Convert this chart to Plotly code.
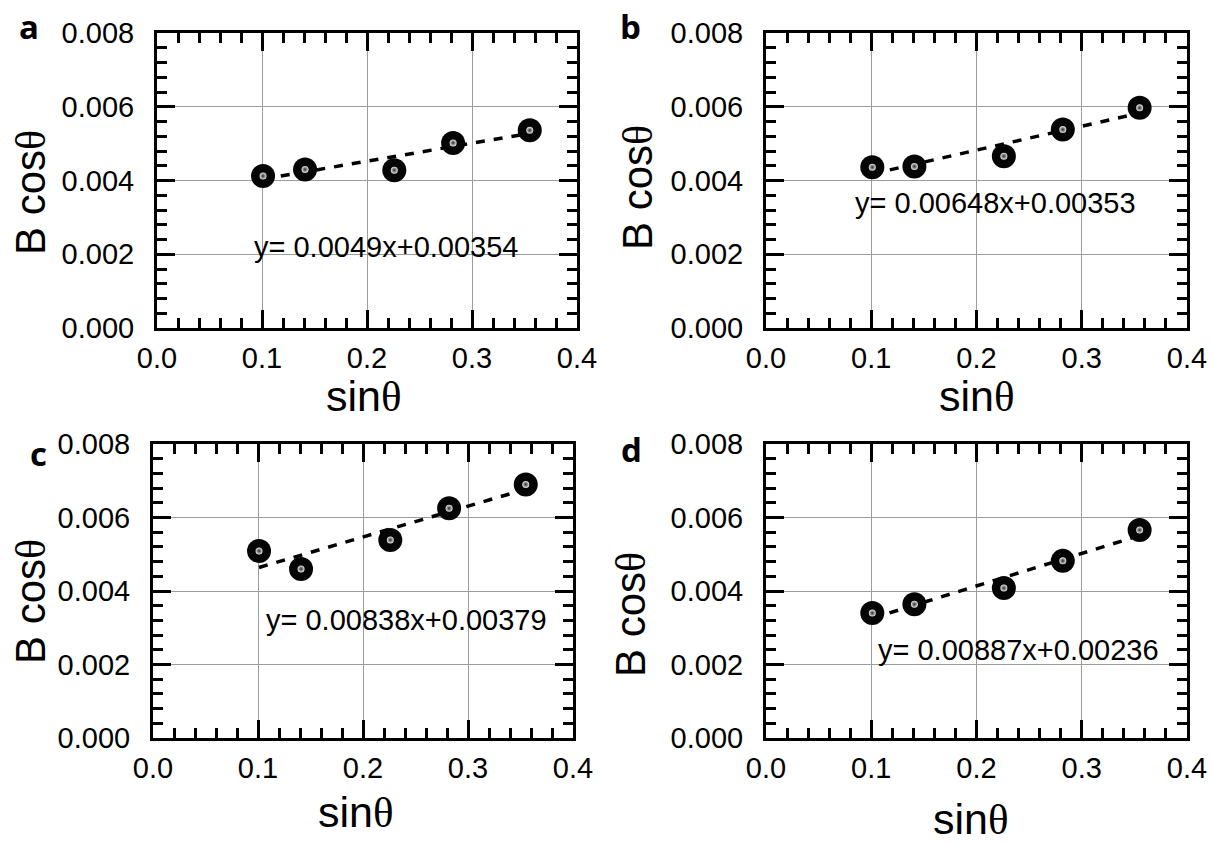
import plotly.graph_objects as go

# ---- data ----
sin_theta = [0.101, 0.141, 0.226, 0.282, 0.355]
bcos_a = [0.00412, 0.00430, 0.00428, 0.00502, 0.00536]
bcos_b = [0.00436, 0.00438, 0.00466, 0.00538, 0.00597]
bcos_c = [0.00509, 0.00460, 0.00539, 0.00625, 0.00690]
bcos_d = [0.00340, 0.00364, 0.00408, 0.00482, 0.00566]

fit_x = [0.101, 0.355]
fit_a = [0.00404, 0.00528]
fit_b = [0.00418, 0.00583]
fit_c = [0.00464, 0.00677]
fit_d = [0.00326, 0.00551]

eq_a = "y= 0.0049x+0.00354"
eq_b = "y= 0.00648x+0.00353"
eq_c = "y= 0.00838x+0.00379"
eq_d = "y= 0.00887x+0.00236"
eq_pos_a = (0.0905, 0.00220)
eq_pos_b = (0.0827, 0.00339)
eq_pos_c = (0.1057, 0.00321)
eq_pos_d = (0.1045, 0.00239)

panel_letters = ["a", "b", "c", "d"]
x_ticks = [0.0, 0.1, 0.2, 0.3, 0.4]
y_ticks = [0.000, 0.002, 0.004, 0.006, 0.008]

W, H = 1212, 844
FONT = "Liberation Sans, Arial, sans-serif"
THETA = "<span style=\"font-family:'Liberation Serif', 'DejaVu Serif', serif\">θ</span>"

panels = [
    dict(y=bcos_a, fit=fit_a, eq=eq_a, pos=eq_pos_a,
         dom_x=(157 / W, 577 / W), dom_y=(1 - 328 / H, 1 - 33 / H)),
    dict(y=bcos_b, fit=fit_b, eq=eq_b, pos=eq_pos_b,
         dom_x=(766 / W, 1187 / W), dom_y=(1 - 328 / H, 1 - 33 / H)),
    dict(y=bcos_c, fit=fit_c, eq=eq_c, pos=eq_pos_c,
         dom_x=(153 / W, 573 / W), dom_y=(1 - 738 / H, 1 - 444 / H)),
    dict(y=bcos_d, fit=fit_d, eq=eq_d, pos=eq_pos_d,
         dom_x=(766 / W, 1187 / W), dom_y=(1 - 738 / H, 1 - 444 / H)),
]

fig = go.Figure()
layout = dict(
    width=W, height=H, autosize=False,
    margin=dict(l=0, r=0, t=0, b=0, pad=0, autoexpand=False),
    paper_bgcolor="white", plot_bgcolor="white",
    showlegend=False,
    font=dict(family=FONT, color="black"),
)
annotations = []

for i, p in enumerate(panels):
    n = "" if i == 0 else str(i + 1)
    xa, ya = "x" + n, "y" + n
    # fit line
    fig.add_trace(go.Scatter(
        x=fit_x, y=p["fit"], mode="lines", xaxis=xa, yaxis=ya,
        line=dict(color="black", width=3.5, dash="9px,9px"),
        hoverinfo="skip"))
    # sphere body
    fig.add_trace(go.Scatter(
        x=sin_theta, y=p["y"], mode="markers", xaxis=xa, yaxis=ya,
        marker=dict(size=24, color="#050505",
                    line=dict(width=0))))
    # sphere highlight
    fig.add_trace(go.Scatter(
        x=sin_theta, y=p["y"], mode="markers", xaxis=xa, yaxis=ya,
        marker=dict(size=7, color="#e6e6e6",
                    gradient=dict(type="radial", color="#2a2a2a"),
                    line=dict(width=0)),
        hoverinfo="skip"))

    common = dict(
        showline=True, linecolor="black", linewidth=3, mirror="ticks",
        ticks="inside", ticklen=18, tickwidth=2.5, tickcolor="black",
        showgrid=True, gridcolor="#9c9c9c", gridwidth=1,
        zeroline=False, automargin=False,
        tickfont=dict(family=FONT, size=29, color="black"),
    )
    layout["xaxis" + n] = dict(
        common, domain=list(p["dom_x"]), anchor=ya, range=[0, 0.4],
        tickvals=x_ticks, ticktext=[f"{v:.1f}" for v in x_ticks],
        ticklabelstandoff=2,
        minor=dict(dtick=0.02, ticks="inside", ticklen=10, tickwidth=2.5,
                   tickcolor="black", showgrid=False),
    )
    layout["yaxis" + n] = dict(
        common, domain=list(p["dom_y"]), anchor=xa, range=[0, 0.008],
        tickvals=y_ticks, ticktext=[f"{v:.3f}" for v in y_ticks],
        ticklabelstandoff=14,
        minor=dict(dtick=0.0004, ticks="inside", ticklen=10, tickwidth=2.5,
                   tickcolor="black", showgrid=False),
    )
    annotations.append(dict(
        x=p["pos"][0], y=p["pos"][1], xref=xa, yref=ya,
        text=p["eq"], showarrow=False, xanchor="left", yanchor="middle",
        font=dict(family=FONT, size=29, color="black")))

ytitle_pos = [(31 / W, 1 - 193 / H), (637 / W, 1 - 187 / H),
              (30 / W, 1 - 602 / H), (630 / W, 1 - 615 / H)]
xtitle_pos = [(364 / W, 1 - 396 / H, "middle"), (977 / W, 1 - 396 / H, "middle"),
              (356 / W, 1 - 812 / H, "middle"), (971 / W, 0.0, "bottom")]
letter_pos = [(29 / W, 1 - 27 / H), (630 / W, 1 - 27 / H),
              (38 / W, 1 - 454 / H), (631 / W, 1 - 449 / H)]

for i in range(4):
    annotations.append(dict(
        x=ytitle_pos[i][0], y=ytitle_pos[i][1], xref="paper", yref="paper",
        text="B cos" + THETA, textangle=-90, showarrow=False,
        xanchor="center", yanchor="middle",
        font=dict(family=FONT, size=42, color="black")))
    annotations.append(dict(
        x=xtitle_pos[i][0], y=xtitle_pos[i][1], xref="paper", yref="paper",
        text="sin" + THETA, showarrow=False,
        xanchor="center", yanchor=xtitle_pos[i][2], borderpad=0,
        font=dict(family=FONT, size=43, color="black")))
    annotations.append(dict(
        x=letter_pos[i][0], y=letter_pos[i][1], xref="paper", yref="paper",
        text="<b>" + panel_letters[i] + "</b>", showarrow=False,
        xanchor="center", yanchor="middle",
        font=dict(family="Open Sans, sans-serif", size=33, color="black")))

layout["annotations"] = annotations
fig.update_layout(**layout)
fig.write_html(
    "out.html",
    post_script="document.body.style.margin='0';document.body.style.overflow='hidden';",
)
